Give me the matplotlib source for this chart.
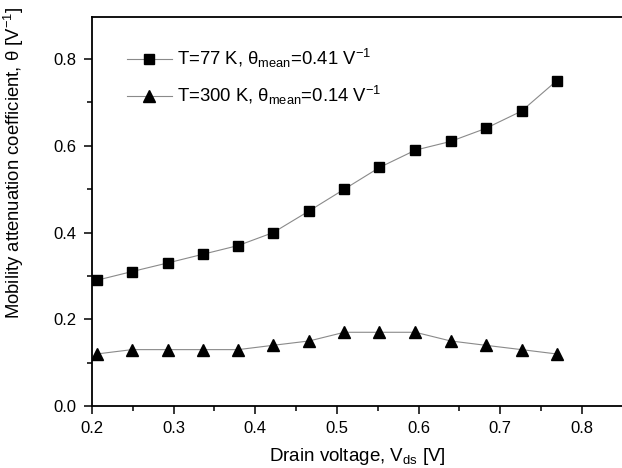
import matplotlib
matplotlib.use("Agg")
import matplotlib.pyplot as plt
from matplotlib.ticker import MultipleLocator

plt.rcParams['font.family'] = ['Liberation Sans', 'DejaVu Sans']
plt.rcParams['mathtext.fontset'] = 'custom'
plt.rcParams['mathtext.rm'] = 'Liberation Sans'
plt.rcParams['mathtext.it'] = 'Liberation Sans'
plt.rcParams['mathtext.bf'] = 'Liberation Sans'

vds = [0.206, 0.249, 0.293, 0.336, 0.379, 0.422, 0.466, 0.509, 0.552, 0.596, 0.639, 0.682, 0.726, 0.769]
theta_77 = [0.29, 0.31, 0.33, 0.35, 0.37, 0.40, 0.45, 0.50, 0.55, 0.59, 0.61, 0.64, 0.68, 0.75]
theta_300 = [0.12, 0.13, 0.13, 0.13, 0.13, 0.14, 0.15, 0.17, 0.17, 0.17, 0.15, 0.14, 0.13, 0.12]
labels = [r'T=77 K, $\theta_{\rm mean}$=0.41 V$^{-1}$',
          r'T=300 K, $\theta_{\rm mean}$=0.14 V$^{-1}$']

fig = plt.figure(figsize=(6.22, 4.68), dpi=100)
ax = fig.add_axes([92/622, 1-406/468, 1-92/622, (406-17)/468])

ax.plot(vds, theta_77, color='#8a8a8a', lw=0.8, marker='s', ms=6.5,
        mfc='black', mec='black', label=labels[0])
ax.plot(vds, theta_300, color='#8a8a8a', lw=0.8, marker='^', ms=8,
        mfc='black', mec='black', label=labels[1])

ax.set_xlim(0.2, 0.849)
ax.set_ylim(0.0, 0.897)
ax.xaxis.set_major_locator(MultipleLocator(0.1))
ax.xaxis.set_minor_locator(MultipleLocator(0.05))
ax.yaxis.set_major_locator(MultipleLocator(0.2))
ax.yaxis.set_minor_locator(MultipleLocator(0.1))
ax.tick_params(which='both', direction='out', width=1.1, colors='black', labelsize=12)
ax.tick_params(which='major', length=6, pad=5)
ax.tick_params(which='minor', length=3.5)
ax.spines['right'].set_visible(False)
for s in ['left', 'bottom', 'top']:
    ax.spines[s].set_linewidth(1.3)

ax.set_xlabel(r'Drain voltage, V$_{\rm ds}$ [V]', fontsize=13.5, labelpad=7)
ax.set_ylabel(r'Mobility attenuation coefficient, $\theta$ [V$^{-1}$]', fontsize=13.3, labelpad=14)
ax.yaxis.set_label_coords(-0.125, 0.625)

leg = ax.legend(loc='upper left', bbox_to_anchor=(0.035, 0.965), frameon=False,
                fontsize=13.3, handlelength=2.4, handletextpad=0.3, labelspacing=0.75)

fig.savefig('out.png', dpi=100)
